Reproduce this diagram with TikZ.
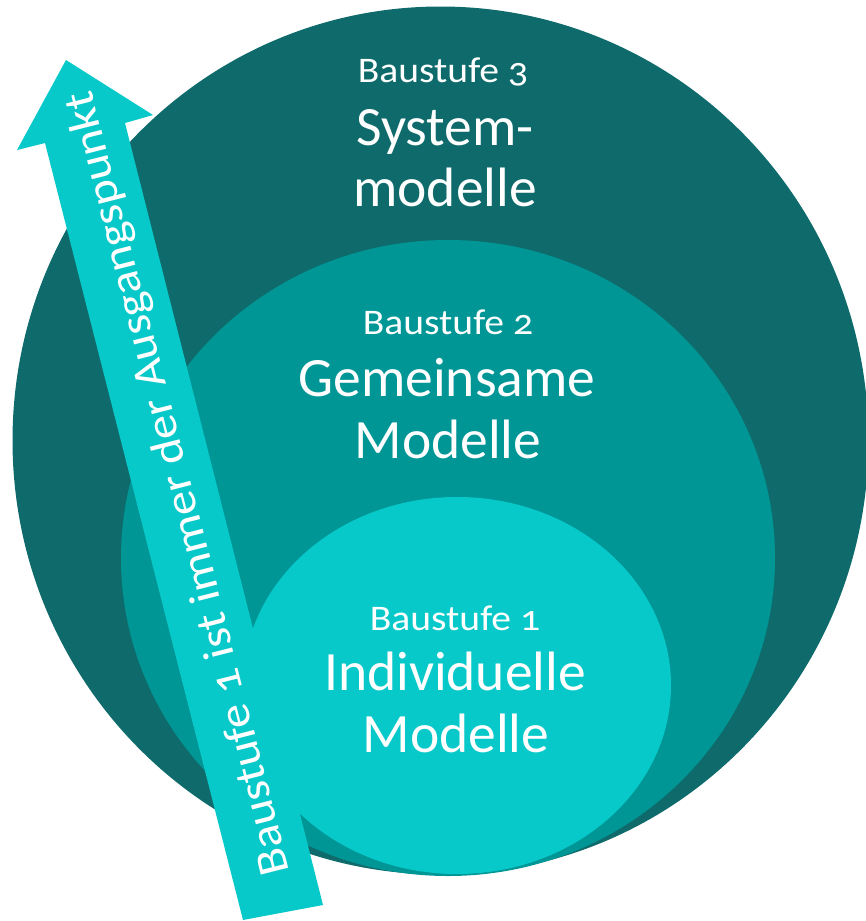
\documentclass[tikz,border=0pt]{standalone}
\usepackage{fontspec}
\setmainfont{Carlito}[Numbers=OldStyle]
\newfontfamily\widefont{Carlito}[Numbers=OldStyle, FakeStretch=1.1]
\newfontfamily\arrowfont{Carlito}[Numbers=OldStyle, FakeStretch=1.12]
\definecolor{outerc}{HTML}{0F6B6B}
\definecolor{midc}{HTML}{009696}
\definecolor{innerc}{HTML}{08C9C9}
\begin{document}
\begin{tikzpicture}[x=1pt,y=-1pt,
  lbl/.style={text=white, anchor=base, inner sep=0pt},
  smalllbl/.style={lbl, font=\widefont\fontsize{36}{40}\selectfont},
  biglbl/.style={lbl, font=\fontsize{55.5}{62}\selectfont},
  arrowlbl/.style={text=white, anchor=center, inner sep=0pt, font=\arrowfont\fontsize{44}{50}\selectfont}]
\useasboundingbox (0,0) rectangle (865,921);
% circles
\fill[outerc] (440.5,440.5) ellipse [x radius=428pt, y radius=434pt];
\fill[midc] (448,558) ellipse [x radius=327pt, y radius=318pt];
\fill[innerc] (457,685.5) ellipse [x radius=214pt, y radius=188.5pt];
% arrow
\coordinate (bl) at (243,920);
\coordinate (br) at (323,905);
\coordinate (sr) at (125,123);
\coordinate (hr) at (153,115);
\coordinate (tip) at (66,60);
\coordinate (hl) at (17,150);
\coordinate (sl) at (45,143);
\fill[innerc] (bl) -- (br) -- (sr) -- (hr) -- (tip) -- (hl) -- (sl) -- cycle;
\node[arrowlbl, rotate=104.24] (at) at (179.5,483.5) {Baustufe 1 ist immer der Ausgangspunkt};
% labels
\node[smalllbl] (b3) at (443,82) {Baustufe 3};
\node[biglbl] (s1) at (445,145) {System-};
\node[biglbl] (s2) at (445,206) {modelle};
\node[smalllbl] (b2) at (448,334) {Baustufe 2};
\node[biglbl] (g1) at (447,396) {Gemeinsame};
\node[biglbl] (g2) at (448,458) {Modelle};
\node[smalllbl] (b1) at (455,630) {Baustufe 1};
\node[biglbl] (i1) at (455,690) {Individuelle};
\node[biglbl] (i2) at (456,752) {Modelle};
\end{tikzpicture}
\end{document}
